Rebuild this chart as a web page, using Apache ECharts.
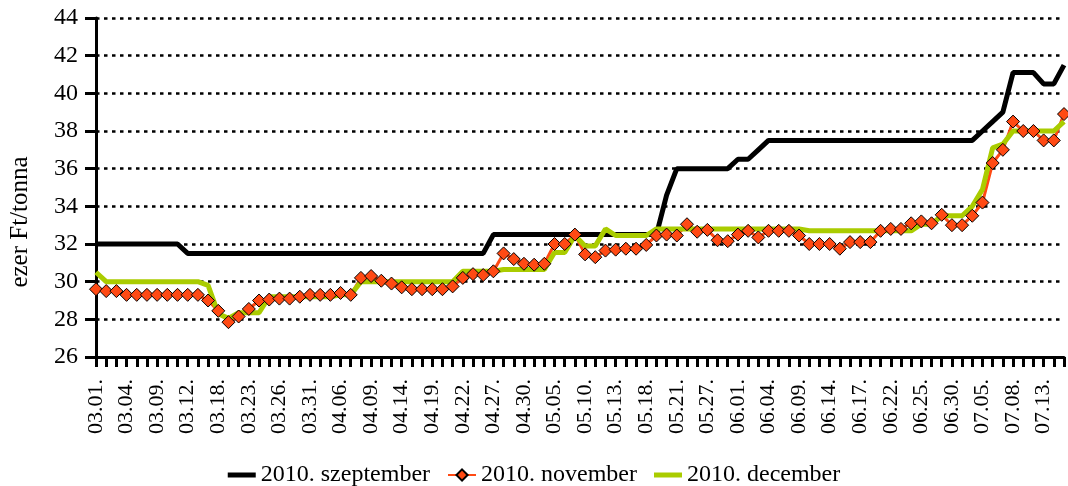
<!DOCTYPE html>
<html>
<head>
<meta charset="utf-8">
<script src="https://cdn.jsdelivr.net/npm/echarts@6/dist/echarts.min.js"></script>
<style>
    html, body { margin: 0; padding: 0; background: #fff; }
    #chart { width: 1068px; height: 486px; }
</style>
</head>
<body>
<div id="chart"></div>
<script>
// kereskedési napok (2010)
var days = [
    '03.01.', '03.02.', '03.03.', '03.04.', '03.05.', '03.08.', '03.09.', '03.10.', '03.11.', '03.12.',
    '03.16.', '03.17.', '03.18.', '03.19.', '03.22.', '03.23.', '03.24.', '03.25.', '03.26.', '03.29.',
    '03.30.', '03.31.', '04.01.', '04.02.', '04.06.', '04.07.', '04.08.', '04.09.', '04.12.', '04.13.',
    '04.14.', '04.15.', '04.16.', '04.19.', '04.20.', '04.21.', '04.22.', '04.23.', '04.26.', '04.27.',
    '04.28.', '04.29.', '04.30.', '05.03.', '05.04.', '05.05.', '05.06.', '05.07.', '05.10.', '05.11.',
    '05.12.', '05.13.', '05.14.', '05.17.', '05.18.', '05.19.', '05.20.', '05.21.', '05.25.', '05.26.',
    '05.27.', '05.28.', '05.31.', '06.01.', '06.02.', '06.03.', '06.04.', '06.07.', '06.08.', '06.09.',
    '06.10.', '06.11.', '06.14.', '06.15.', '06.16.', '06.17.', '06.18.', '06.21.', '06.22.', '06.23.',
    '06.24.', '06.25.', '06.28.', '06.29.', '06.30.', '07.01.', '07.02.', '07.05.', '07.06.', '07.07.',
    '07.08.', '07.09.', '07.12.', '07.13.', '07.14.', '07.15.'
]

var seriesNames = ['2010. szeptember', '2010. november', '2010. december']

var szeptember = [
    32, 32, 32, 32, 32, 32, 32, 32, 32, 31.5,
    31.5, 31.5, 31.5, 31.5, 31.5, 31.5, 31.5, 31.5, 31.5, 31.5,
    31.5, 31.5, 31.5, 31.5, 31.5, 31.5, 31.5, 31.5, 31.5, 31.5,
    31.5, 31.5, 31.5, 31.5, 31.5, 31.5, 31.5, 31.5, 31.5, 32.5,
    32.5, 32.5, 32.5, 32.5, 32.5, 32.5, 32.5, 32.5, 32.5, 32.5,
    32.5, 32.5, 32.5, 32.5, 32.5, 32.5, 34.6, 36, 36, 36,
    36, 36, 36, 36.5, 36.5, 37, 37.5, 37.5, 37.5, 37.5,
    37.5, 37.5, 37.5, 37.5, 37.5, 37.5, 37.5, 37.5, 37.5, 37.5,
    37.5, 37.5, 37.5, 37.5, 37.5, 37.5, 37.5, 38, 38.5, 39,
    41.1, 41.1, 41.1, 40.5, 40.5, 41.5
]

var november = [
    29.6, 29.5, 29.5, 29.3, 29.3, 29.3, 29.3, 29.3, 29.3, 29.3,
    29.3, 29.0, 28.45, 27.85, 28.15, 28.55, 29.0, 29.05, 29.1, 29.1,
    29.2, 29.3, 29.3, 29.3, 29.4, 29.3, 30.2, 30.3, 30.05, 29.9,
    29.7, 29.6, 29.6, 29.6, 29.6, 29.75, 30.2, 30.4, 30.35, 30.55,
    31.5, 31.2, 30.95, 30.9, 30.95, 32.0, 32.0, 32.5, 31.45, 31.3,
    31.65, 31.7, 31.75, 31.75, 31.95, 32.45, 32.5, 32.45, 33.05, 32.65,
    32.75, 32.2, 32.15, 32.5, 32.7, 32.35, 32.7, 32.7, 32.7, 32.45,
    32.0, 32.0, 32.0, 31.75, 32.1, 32.1, 32.1, 32.7, 32.8, 32.8,
    33.1, 33.2, 33.1, 33.55, 33.0, 33.0, 33.5, 34.2, 36.3, 37.0,
    38.5, 38.0, 38.0, 37.5, 37.5, 38.9
]

var december = [
    30.5, 30, 30, 30, 30, 30, 30, 30, 30, 30,
    30, 29.8, 28.3, 28.05, 28.35, 28.35, 28.35, 29.2, 29.2, 29.2,
    29.2, 29.2, 29.2, 29.2, 29.3, 29.3, 30, 30, 30, 30,
    30, 30, 30, 30, 30, 30, 30.55, 30.55, 30.55, 30.55,
    30.65, 30.65, 30.65, 30.65, 30.65, 31.55, 31.55, 32.45, 31.9, 31.9,
    32.8, 32.45, 32.45, 32.45, 32.45, 32.8, 32.8, 32.8, 32.8, 32.8,
    32.8, 32.8, 32.8, 32.8, 32.8, 32.8, 32.8, 32.8, 32.8, 32.8,
    32.7, 32.7, 32.7, 32.7, 32.7, 32.7, 32.7, 32.7, 32.7, 32.7,
    32.7, 33.05, 33.05, 33.5, 33.5, 33.5, 34.0, 34.9, 37.1, 37.3,
    38, 38, 38, 38, 38, 38.5
]

var font = 'Liberation Serif'
var barIcon = 'path://M0,0 L28,0 L28,5 L0,5 Z'

var chart = echarts.init(document.getElementById('chart'))

chart.setOption({
    animation: false,
    grid: {
        left: 96,
        right: 4,
        top: 18,
        bottom: 129,
        outerBoundsMode: 'none'
    },
    legend: {
        left: 'center',
        top: 458,
        itemWidth: 28,
        itemHeight: 14,
        itemGap: 17,
        textStyle: { fontFamily: font, fontSize: 24, color: '#000' },
        data: [
            { name: seriesNames[0], icon: barIcon },
            { name: seriesNames[1] },
            { name: seriesNames[2], icon: barIcon }
        ]
    },
    graphic: [
        {
            type: 'text',
            x: 20,
            y: 222,
            rotation: Math.PI / 2,
            style: {
                text: 'ezer Ft/tonna',
                fontFamily: font,
                fontSize: 25,
                fill: '#000',
                align: 'center',
                verticalAlign: 'middle'
            }
        }
    ],
    xAxis: {
        type: 'category',
        boundaryGap: false,
        data: days,
        axisLine: { lineStyle: { color: '#000', width: 3 } },
        axisTick: { interval: 0, length: 10, lineStyle: { color: '#000', width: 3 } },
        axisLabel: {
            interval: 2,
            rotate: 90,
            margin: 22,
            fontFamily: font,
            fontSize: 22,
            color: '#000'
        },
        splitLine: { show: false }
    },
    yAxis: {
        type: 'value',
        min: 26,
        max: 44,
        interval: 2,
        axisLine: { show: true, lineStyle: { color: '#000', width: 3 } },
        axisTick: { show: true, length: 11, lineStyle: { color: '#000', width: 3 } },
        axisLabel: { margin: 18, fontFamily: font, fontSize: 24, color: '#000' },
        splitLine: { lineStyle: { color: '#000', width: 2.5, type: [3.5, 4.5] } }
    },
    series: [
        {
            name: seriesNames[0],
            type: 'line',
            data: szeptember,
            symbol: 'none',
            lineStyle: { color: '#000', width: 5 },
            itemStyle: { color: '#000' }
        },
        {
            name: seriesNames[1],
            type: 'line',
            data: november,
            symbol: 'diamond',
            symbolSize: 13,
            showAllSymbol: true,
            lineStyle: { color: '#ff4a14', width: 3 },
            itemStyle: { color: '#ff4a14', borderColor: '#000', borderWidth: 1 }
        },
        {
            name: seriesNames[2],
            type: 'line',
            data: december,
            symbol: 'none',
            lineStyle: { color: '#aacc00', width: 5 },
            itemStyle: { color: '#aacc00' }
        }
    ]
})
</script>
</body>
</html>
